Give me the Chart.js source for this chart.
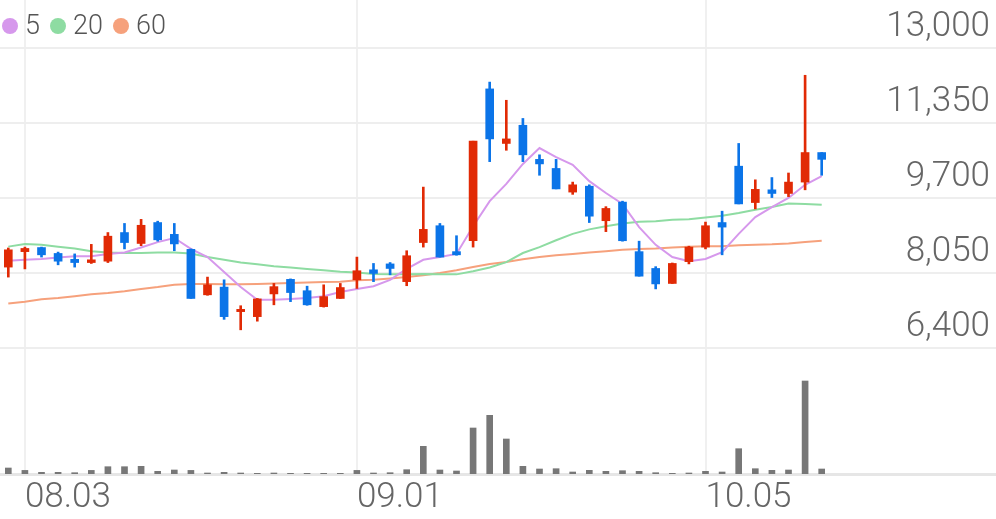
<!DOCTYPE html>
<html>
<head>
<meta charset="utf-8">
<script src="https://cdn.jsdelivr.net/npm/chart.js@4.4.1/dist/chart.umd.min.js"></script>
<style>
  html, body { margin: 0; padding: 0; background: #fff; }
  #wrap { position: relative; width: 996px; height: 519px; }
  #legend {
    position: absolute; left: 2px; top: 12px; display: flex; align-items: center;
    font-family: Roboto, sans-serif; font-weight: 300; font-size: 27px; line-height: 27px; color: #555;
  }
  #legend .item { display: flex; align-items: center; margin-right: 10px; }
  #legend .dot { width: 16px; height: 16px; border-radius: 50%; margin-right: 7px; }
</style>
</head>
<body>
<div id="wrap">
  <canvas id="stockChart"></canvas>
  <div id="legend"></div>
</div>
<script>
  // trading days (2022), MM.DD
  const dates = [
    "08.02", "08.03", "08.04", "08.05", "08.08", "08.09", "08.10", "08.11", "08.12", "08.16",
    "08.17", "08.18", "08.19", "08.22", "08.23", "08.24", "08.25", "08.26", "08.29", "08.30",
    "08.31", "09.01", "09.02", "09.05", "09.06", "09.07", "09.08", "09.13", "09.14", "09.15",
    "09.16", "09.19", "09.20", "09.21", "09.22", "09.23", "09.26", "09.27", "09.28", "09.29",
    "09.30", "10.04", "10.05", "10.06", "10.07", "10.11", "10.12", "10.13", "10.14", "10.17",
  ]
  const tickDates = ["08.03", "09.01", "10.05"]
  const emptySlots = 10

  const openP = [
    8180, 8520, 8610, 8480, 8350, 8280, 8310, 8940, 8700, 9160,
    8900, 8570, 7570, 7740, 7200, 7090, 7590, 7910, 7660, 7310,
    7490, 7900, 8120, 8250, 7860, 8720, 9090, 8520, 8760, 12100,
    10900, 11300, 10550, 10350, 9830, 9960, 9200, 9610, 8520, 8150,
    7820, 8300, 8620, 9160, 10400, 9600, 9880, 9800, 10050, 10700,
  ]
  const highP = [
    8600, 8620, 8620, 8510, 8470, 8680, 8940, 9140, 9230, 9190,
    9140, 8580, 7960, 7900, 7330, 7490, 7820, 7920, 7760, 7790,
    7820, 8400, 8260, 8280, 8540, 9940, 9140, 8870, 10950, 12250,
    11850, 11450, 10650, 10550, 10050, 9990, 9510, 9630, 8750, 8190,
    8270, 8640, 9170, 9410, 10900, 10100, 10150, 10250, 12400, 10700,
  ]
  const lowP = [
    7960, 8140, 8400, 8230, 8180, 8260, 8280, 8580, 8650, 8750,
    8540, 7490, 7560, 7030, 6800, 6990, 7350, 7420, 7340, 7300,
    7490, 7710, 7860, 8010, 7770, 8620, 8400, 8440, 8620, 10500,
    10750, 10500, 10200, 9900, 9780, 9160, 8960, 8750, 7980, 7700,
    7820, 8250, 8580, 8450, 9570, 9460, 9710, 9730, 9880, 10200,
  ]
  const closeP = [
    8560, 8590, 8450, 8310, 8280, 8340, 8860, 8720, 9100, 8780,
    8690, 7490, 7790, 7090, 7250, 7480, 7750, 7620, 7350, 7530,
    7730, 8100, 8040, 8150, 8430, 9010, 8400, 8450, 10950, 11000,
    11000, 10650, 10450, 9900, 9990, 9300, 9470, 8760, 7980, 7810,
    8260, 8620, 9090, 9060, 9570, 9890, 9800, 10050, 10700, 10550,
  ]
  const volume = [
    60000, 36000, 17000, 17000, 13000, 36000, 73000, 73000, 77000, 27000,
    40000, 36000, 10000, 17000, 10000, 7000, 10000, 7000, 7000, 7000,
    7000, 36000, 10000, 13000, 43000, 277000, 40000, 30000, 460000, 587000,
    350000, 77000, 50000, 53000, 20000, 37000, 27000, 33000, 27000, 13000,
    7000, 10000, 27000, 20000, 253000, 53000, 37000, 40000, 930000, 50000,
  ]
  const ma5 = [
    8320, 8340, 8360, 8390, 8420, 8420, 8470, 8500, 8610, 8730,
    8820, 8580, 8400, 8070, 7740, 7460, 7460, 7480, 7500, 7540,
    7630, 7700, 7760, 7900, 8140, 8340, 8400, 8470, 9080, 9630,
    10010, 10450, 10800, 10600, 10430, 10070, 9810, 9570, 9060, 8670,
    8400, 8310, 8360, 8510, 8910, 9280, 9500, 9700, 9990, 10180,
  ]
  const ma20 = [
    8630, 8690, 8670, 8630, 8590, 8530, 8500, 8490, 8490, 8500,
    8500, 8480, 8400, 8340, 8280, 8240, 8200, 8170, 8140, 8110,
    8080, 8060, 8030, 8020, 8020, 8030, 8020, 8020, 8090, 8170,
    8290, 8490, 8620, 8770, 8910, 9010, 9080, 9140, 9180, 9190,
    9220, 9230, 9270, 9310, 9370, 9440, 9500, 9580, 9570, 9550,
  ]
  const ma60 = [
    7380, 7420, 7470, 7500, 7540, 7580, 7610, 7650, 7700, 7740,
    7790, 7810, 7810, 7800, 7800, 7810, 7820, 7830, 7840, 7850,
    7860, 7890, 7900, 7930, 7960, 8000, 8050, 8110, 8180, 8250,
    8290, 8350, 8400, 8440, 8470, 8500, 8530, 8560, 8580, 8590,
    8610, 8630, 8640, 8640, 8660, 8670, 8680, 8700, 8730, 8760,
  ]
  const priceTicks = [6400, 8050, 9700, 11350, 13000]

  const upColor = "#e12a05"
  const downColor = "#0b74e8"
  const labelFont = { family: "Roboto", size: 35, weight: 300 }

  const allLabels = dates.concat(Array(emptySlots).fill(""))
  const candleColors = openP.map((o, i) => (closeP[i] >= o ? upColor : downColor))

  const maLines = [
    { label: "5", data: ma5, color: "#d698ec" },
    { label: "20", data: ma20, color: "#8edca2" },
    { label: "60", data: ma60, color: "#f6a17c" },
  ]

  const ctx = document.getElementById("stockChart")

  new Chart(ctx, {
    type: "bar",
    data: {
      labels: allLabels,
      datasets: [
        {
          label: "body",
          data: openP.map((o, i) => [o, closeP[i]]),
          backgroundColor: candleColors,
          barThickness: 8,
          minBarLength: 2,
          grouped: false,
          yAxisID: "y",
          order: 0,
        },
        {
          label: "wick",
          data: lowP.map((l, i) => [l, highP[i]]),
          backgroundColor: candleColors,
          barThickness: 2,
          grouped: false,
          yAxisID: "y",
          order: 1,
        },
        ...maLines.map((m) => ({
          type: "line",
          label: m.label,
          data: m.data,
          borderColor: m.color,
          backgroundColor: m.color,
          borderWidth: 2,
          pointRadius: 0,
          yAxisID: "y",
          order: 2,
        })),
        {
          label: "volume",
          data: volume,
          backgroundColor: "#777777",
          barThickness: 6,
          grouped: false,
          yAxisID: "yv",
          order: 3,
        },
      ],
    },
    options: {
      responsive: true,
      maintainAspectRatio: false,
      animation: false,
      layout: { padding: 0 },
      plugins: {
        tooltip: { enabled: false },
        legend: { display: false },
      },
      scales: {
        x: {
          offset: true,
          grid: {
            offset: false,
            drawTicks: false,
            lineWidth: 2,
            color: (c) => (c.tick && tickDates.includes(allLabels[c.tick.value]) ? "#f0f0f0" : "rgba(0,0,0,0)"),
          },
          border: { color: "#e6e6e6", width: 3 },
          ticks: {
            autoSkip: false,
            maxRotation: 0,
            align: "start",
            padding: 3,
            color: "#666",
            font: labelFont,
            callback: (v, i) => (tickDates.includes(allLabels[i]) ? allLabels[i] : ""),
          },
          afterFit: (s) => {
            s.height = 45
            s.paddingLeft = 0
            s.paddingRight = 0
          },
        },
        y: {
          position: "right",
          min: 3628,
          max: 14056,
          afterBuildTicks: (s) => {
            s.ticks = priceTicks.map((v) => ({ value: v }))
          },
          grid: { color: "#eeeeee", lineWidth: 2, drawTicks: false },
          border: { display: false },
          ticks: {
            mirror: true,
            padding: -6,
            labelOffset: -21,
            color: "#666",
            font: labelFont,
            callback: (v) => v.toLocaleString("en-US"),
          },
          afterFit: (s) => {
            s.width = 0
            s.paddingTop = 0
            s.paddingBottom = 0
          },
        },
        yv: {
          display: false,
          min: 0,
          max: 4740000,
        },
      },
    },
  })

  // legend for the moving averages
  const legend = document.getElementById("legend")
  maLines.forEach((m) => {
    const item = document.createElement("span")
    item.className = "item"
    const dot = document.createElement("span")
    dot.className = "dot"
    dot.style.background = m.color
    item.appendChild(dot)
    item.appendChild(document.createTextNode(m.label))
    legend.appendChild(item)
  })
</script>
</body>
</html>
